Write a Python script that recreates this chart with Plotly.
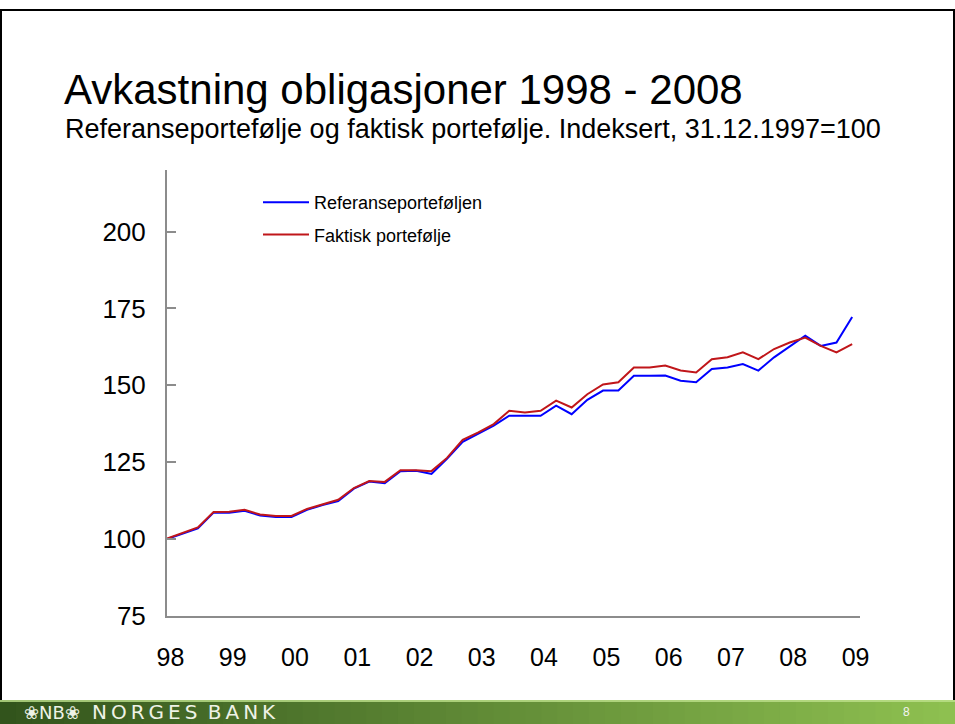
import pandas as pd
import plotly.graph_objects as go

# ---------------- data ----------------
quarters = pd.date_range("1997-12-31", periods=45, freq="QE")

referanse = [100.0, 101.8, 103.5, 108.6, 108.6, 109.2, 107.7, 107.2, 107.2, 109.5,
             111.1, 112.4, 116.4, 118.7, 118.2, 122.1, 122.2, 121.2, 126.1, 131.6,
             134.2, 136.9, 140.1, 140.1, 140.1, 143.4, 140.6, 145.3, 148.3, 148.3,
             153.1, 153.1, 153.2, 151.5, 151.0, 155.3, 155.8, 156.9, 154.8, 159.1,
             162.5, 166.1, 162.8, 163.9, 172.2]

faktisk = [100.2, 102.0, 103.8, 108.8, 108.9, 109.5, 108.0, 107.5, 107.5, 109.8,
           111.4, 112.8, 116.6, 118.9, 118.6, 122.4, 122.4, 122.1, 126.4, 132.3,
           134.7, 137.4, 141.7, 141.2, 141.7, 145.0, 142.8, 147.1, 150.3, 151.0,
           155.8, 155.8, 156.4, 154.8, 154.2, 158.5, 159.1, 160.7, 158.5, 161.8,
           163.9, 165.5, 162.8, 160.7, 163.4]

tick_years = list(range(1998, 2010))
tick_text = ["98", "99", "00", "01", "02", "03", "04", "05", "06", "07", "08", "09"]
y_ticks = [75, 100, 125, 150, 175, 200]

series_names = ["Referanseporteføljen", "Faktisk portefølje"]
title_text = "Avkastning obligasjoner 1998 - 2008"
subtitle_text = "Referanseportefølje og faktisk portefølje. Indeksert, 31.12.1997=100"

# ---------------- layout geometry (pixels) ----------------
FW, FH = 955, 724
L, R, T, B = 167, 860, 170, 616
PW, PH = R - L, B - T


def px(x):
    return (x - L) / PW


def py(y):
    return (B - y) / PH


FONT = "Liberation Sans, Arial, sans-serif"

fig = go.Figure()
fig.add_trace(go.Scatter(x=quarters, y=referanse, mode="lines", name=series_names[0],
                         legendgroup="a",
                         line=dict(color="#0000FF", width=2)))
fig.add_trace(go.Scatter(x=quarters, y=faktisk, mode="lines", name=series_names[1],
                         legendgroup="b",
                         line=dict(color="#C0161A", width=2)))

shapes = []
# footer gradient bar
n = 60
c0 = (50, 84, 28)
c1 = (142, 192, 80)
for i in range(n):
    t = i / (n - 1)
    col = tuple(int(round(c0[k] + (c1[k] - c0[k]) * t)) for k in range(3))
    x0 = FW * i / n
    x1 = FW * (i + 1) / n + 1
    shapes.append(dict(type="rect", xref="paper", yref="paper",
                       x0=px(x0), x1=px(x1), y0=py(724), y1=py(700),
                       line=dict(width=0), fillcolor="rgb(%d,%d,%d)" % col, layer="below"))
shapes.append(dict(type="rect", xref="paper", yref="paper",
                   x0=px(0), x1=px(FW), y0=py(702), y1=py(700),
                   line=dict(width=0), fillcolor="rgba(190,225,140,0.8)", layer="below"))
# slide frame
shapes.append(dict(type="line", xref="paper", yref="paper",
                   x0=px(1), x1=px(1), y0=py(10), y1=py(700),
                   line=dict(color="black", width=2)))
shapes.append(dict(type="line", xref="paper", yref="paper",
                   x0=px(0), x1=px(FW), y0=py(10), y1=py(10),
                   line=dict(color="black", width=2)))
shapes.append(dict(type="line", xref="paper", yref="paper",
                   x0=px(954), x1=px(954), y0=py(10), y1=py(700),
                   line=dict(color="black", width=2)))

annotations = [
    dict(text=title_text, xref="paper", yref="paper", x=px(62), y=py(90),
         xanchor="left", yanchor="middle", showarrow=False,
         font=dict(family=FONT, size=42, color="black")),
    dict(text=subtitle_text, xref="paper", yref="paper", x=px(63), y=py(129),
         xanchor="left", yanchor="middle", showarrow=False,
         font=dict(family=FONT, size=27, color="black")),
    dict(text="\u2740NB\u2740", xref="paper", yref="paper", x=px(22), y=py(712),
         xanchor="left", yanchor="middle", showarrow=False,
         font=dict(family="DejaVu Sans, sans-serif", size=18, color="#EEF2E6")),
    dict(text="N\u2009O\u2009R\u2009G\u2009E\u2009S\u2009 B\u2009A\u2009N\u2009K",
         xref="paper", yref="paper", x=px(90), y=py(712),
         xanchor="left", yanchor="middle", showarrow=False,
         font=dict(family="DejaVu Sans, sans-serif", size=20, color="#EEF2E6")),
    dict(text="8", xref="paper", yref="paper", x=px(906), y=py(712),
         xanchor="center", yanchor="middle", showarrow=False,
         font=dict(family=FONT, size=12, color="#F4F4F4")),
]

fig.update_layout(
    width=FW, height=FH,
    margin=dict(l=L, r=FW - R, t=T, b=FH - B, pad=0),
    paper_bgcolor="white", plot_bgcolor="white",
    font=dict(family=FONT, color="black"),
    showlegend=True,
    legend=dict(x=px(258), y=py(184), xanchor="left", yanchor="top",
                bgcolor="rgba(0,0,0,0)", traceorder="grouped", tracegroupgap=6,
                itemwidth=46,
                font=dict(family=FONT, size=18, color="black")),
    shapes=shapes,
    annotations=annotations,
    xaxis=dict(
        type="date",
        range=[pd.Timestamp("1997-12-31"), pd.Timestamp("2009-02-15")],
        tickvals=[pd.Timestamp(f"{y}-01-20") for y in tick_years],
        ticktext=tick_text,
        showline=True, linecolor="#8C8C8C", linewidth=2,
        ticks="", showgrid=False, zeroline=False,
        tickfont=dict(family=FONT, size=25, color="black"),
        ticklabelstandoff=18,
    ),
    yaxis=dict(
        range=[75, 220],
        tickvals=y_ticks,
        showline=True, linecolor="#8C8C8C", linewidth=2,
        ticks="inside", ticklen=9, tickwidth=2, tickcolor="#8C8C8C",
        showgrid=False, zeroline=False,
        tickfont=dict(family=FONT, size=26, color="black"),
        ticklabelstandoff=14,
    ),
)

fig.write_html("out.html",
               config={"displayModeBar": False},
               post_script="document.body.style.margin='0px';document.body.style.overflow='hidden';")
